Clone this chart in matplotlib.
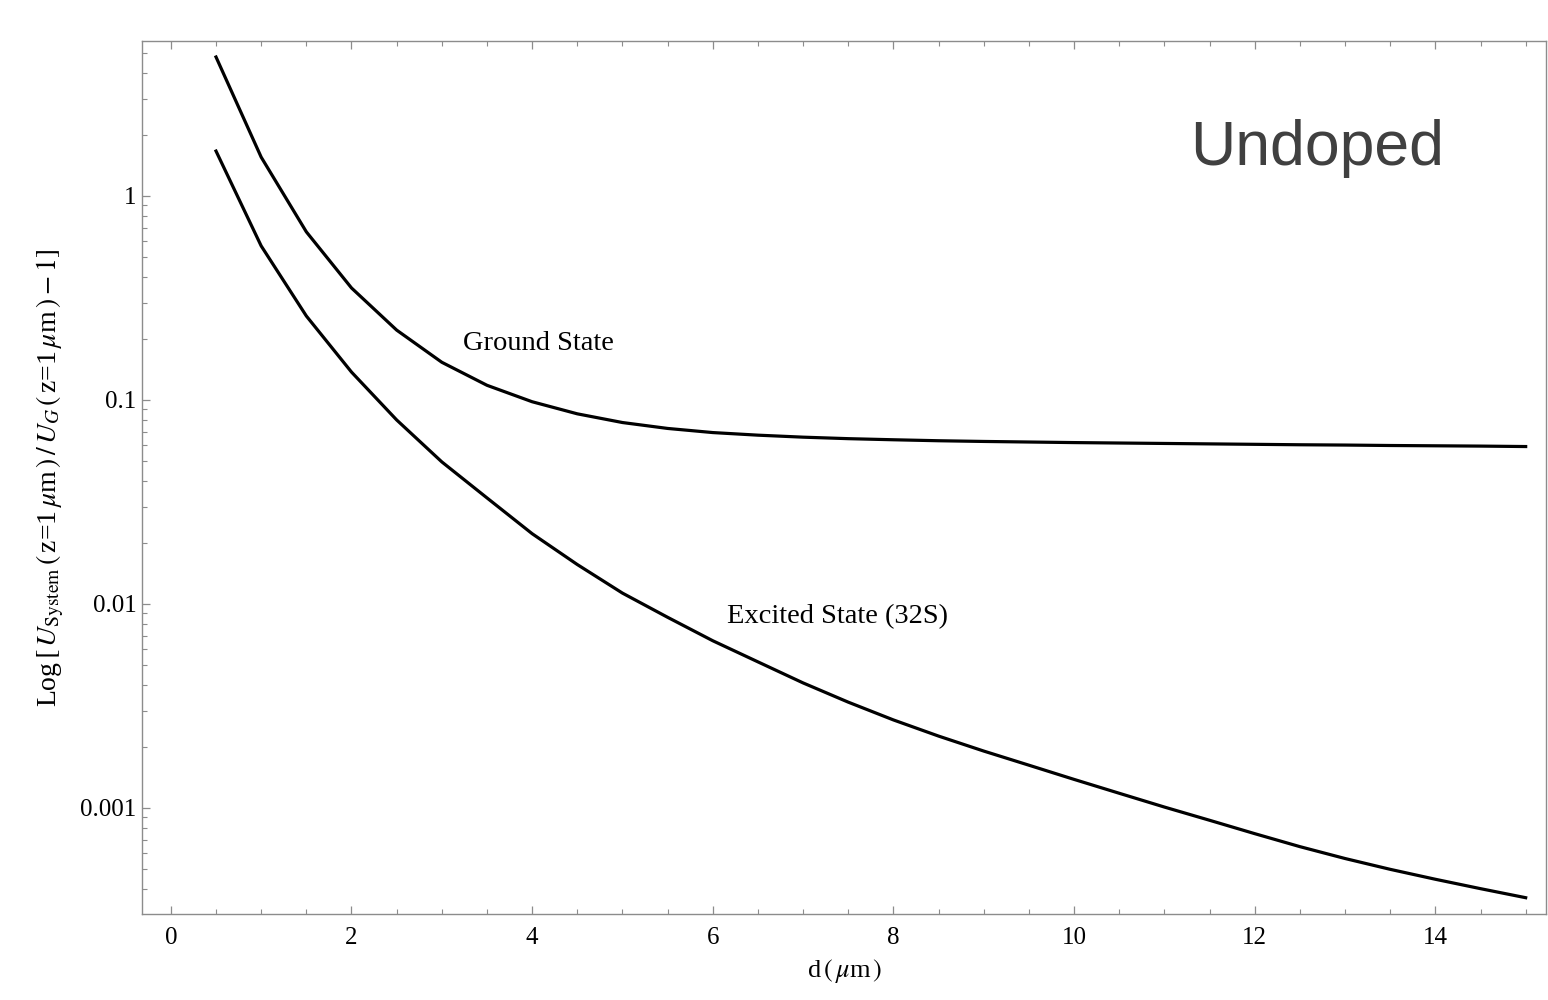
import numpy as np
import matplotlib
matplotlib.use("Agg")
from matplotlib import pyplot as plt
from matplotlib import ticker

plt.rcParams['font.family'] = ['Liberation Serif', 'DejaVu Serif']
plt.rcParams['mathtext.fontset'] = 'stix'

## Data
d = [0.5, 1.0, 1.5, 2.0, 2.5, 3.0, 3.5, 4.0, 4.5, 5.0, 5.5, 6.0, 6.5, 7.0, 7.5,
     8.0, 8.5, 9.0, 9.5, 10.0, 10.5, 11.0, 11.5, 12.0, 12.5, 13.0, 13.5, 14.0,
     14.5, 15.0]
ground = [4.8, 1.55, 0.667, 0.354, 0.220, 0.153, 0.118, 0.098, 0.0855, 0.0775,
          0.0725, 0.0692, 0.0672, 0.0657, 0.0646, 0.0638, 0.0631, 0.0626,
          0.0622, 0.0618, 0.0615, 0.0612, 0.0609, 0.0606, 0.0603, 0.0601,
          0.0598, 0.0596, 0.0594, 0.0591]
excited = [1.66, 0.569, 0.258, 0.137, 0.0798, 0.0497, 0.0331, 0.0221, 0.0156,
           0.0113, 0.0086, 0.0066, 0.0052, 0.0041, 0.0033, 0.0027, 0.00225,
           0.0019, 0.00162, 0.00138, 0.00118, 0.00101, 0.00087, 0.000748,
           0.000646, 0.000565, 0.000500, 0.000447, 0.000402, 0.000363]

ytick_vals = [1, 0.1, 0.01, 0.001]
ytick_txt = ['1', '0.1', '0.01', '0.001']

fig = plt.figure(figsize=(15.48, 10), dpi=100)
ax = fig.add_axes([0.0917, 0.086, 0.9073, 0.873])

ax.semilogy(d, ground, color='k', lw=2.3)
ax.semilogy(d, excited, color='k', lw=2.3)

ax.set_xlim(-0.32, 15.23)
ax.set_ylim(3.02e-4, 5.75)

ax.xaxis.set_major_locator(ticker.MultipleLocator(2))
ax.xaxis.set_minor_locator(ticker.MultipleLocator(0.5))
ax.set_yticks(ytick_vals)
ax.set_yticklabels(ytick_txt)
ax.yaxis.set_minor_locator(ticker.LogLocator(base=10, subs=np.arange(2, 10)))
ax.yaxis.set_minor_formatter(ticker.NullFormatter())

gray = '#8c8c8c'
for s in ax.spines.values():
    s.set_color(gray)
    s.set_linewidth(1.0)
ax.tick_params(which='both', direction='in', top=True, right=False,
               color=gray, labelsize=18, labelcolor='k')
ax.tick_params(which='major', length=6, width=0.9)
ax.tick_params(which='minor', length=3.5, width=0.8)
ax.tick_params(axis='x', pad=9)
ax.tick_params(axis='y', pad=4)

ax.set_xlabel(r'd$\,(\,\mu$m$\,)$', fontsize=19, labelpad=6)
ax.set_ylabel(r'Log$\,[\,U_{\mathrm{System}}\,(\,$z=1$\,\mu$m$\,)\,/\,U_G\,(\,$z=1$\,\mu$m$\,)-1]$',
              fontsize=20, labelpad=10)

ax.text(3.24, 0.19, 'Ground State', fontsize=20.5, va='center', ha='left')
ax.text(6.16, 0.00863, 'Excited State (32S)', fontsize=20.5, va='center', ha='left')
ax.text(0.746, 0.858, 'Undoped', transform=ax.transAxes, fontsize=45,
        family='Liberation Sans', color='#404040', va='baseline', ha='left')

fig.savefig('out.png', dpi=100)
